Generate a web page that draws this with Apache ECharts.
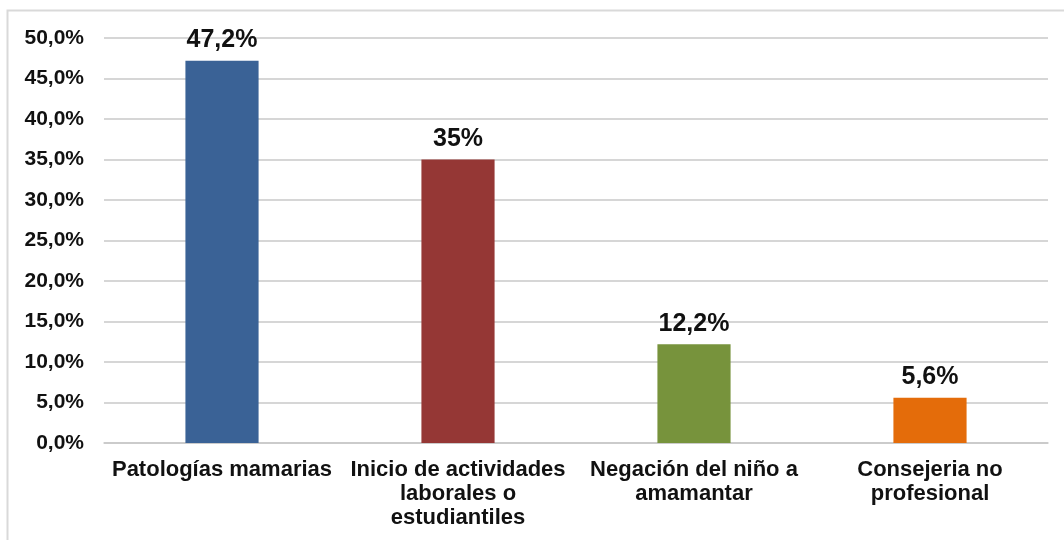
<!DOCTYPE html>
<html>
<head>
<meta charset="utf-8">
<script src="https://cdn.jsdelivr.net/npm/echarts@6/dist/echarts.min.js"></script>
<style>
  html, body { margin: 0; padding: 0; background: #fff; }
  #chart { width: 1064px; height: 540px; }
</style>
</head>
<body>
<div id="chart"></div>
<script>
const categories = [
  'Patologías mamarias',
  'Inicio de actividades\nlaborales o\nestudiantiles',
  'Negación del niño a\namamantar',
  'Consejeria no\nprofesional'
]
const values = [47.2, 35, 12.2, 5.6]
const valueLabels = ['47,2%', '35%', '12,2%', '5,6%']
const barColors = ['#3a6296', '#953735', '#77933c', '#e46c0a']

const font = 'Liberation Sans, Arial, sans-serif'

const chart = echarts.init(document.getElementById('chart'))

chart.setOption({
  animation: false,
  graphic: [
    {
      type: 'rect',
      shape: { x: 7.5, y: 10.5, width: 1070, height: 540 },
      style: { fill: 'none', stroke: '#d9d9d9', lineWidth: 2 },
      silent: true
    }
  ],
  grid: {
    left: 104,
    right: 16,
    top: 38,
    bottom: 97
  },
  xAxis: {
    type: 'category',
    data: categories,
    axisTick: { show: false },
    axisLine: { show: true, lineStyle: { color: '#c8c8c8', width: 1.5 } },
    axisLabel: {
      interval: 0,
      color: '#111',
      fontFamily: font,
      fontWeight: 'bold',
      fontSize: 22,
      lineHeight: 24,
      margin: 15
    }
  },
  yAxis: {
    type: 'value',
    min: 0,
    max: 50,
    interval: 5,
    axisLine: { show: false },
    axisTick: { show: false },
    splitLine: { lineStyle: { color: '#c8c8c8', width: 1.5 } },
    axisLabel: {
      color: '#111',
      fontFamily: font,
      fontWeight: 'bold',
      fontSize: 21,
      margin: 20,
      formatter: v => v.toFixed(1).replace('.', ',') + '%'
    }
  },
  series: [
    {
      type: 'bar',
      barWidth: '31%',
      data: values.map((v, i) => ({
        value: v,
        itemStyle: { color: barColors[i] },
        label: { formatter: valueLabels[i] }
      })),
      label: {
        show: true,
        position: 'top',
        distance: 8,
        color: '#111',
        fontFamily: font,
        fontWeight: 'bold',
        fontSize: 25
      }
    }
  ]
})
</script>
</body>
</html>
